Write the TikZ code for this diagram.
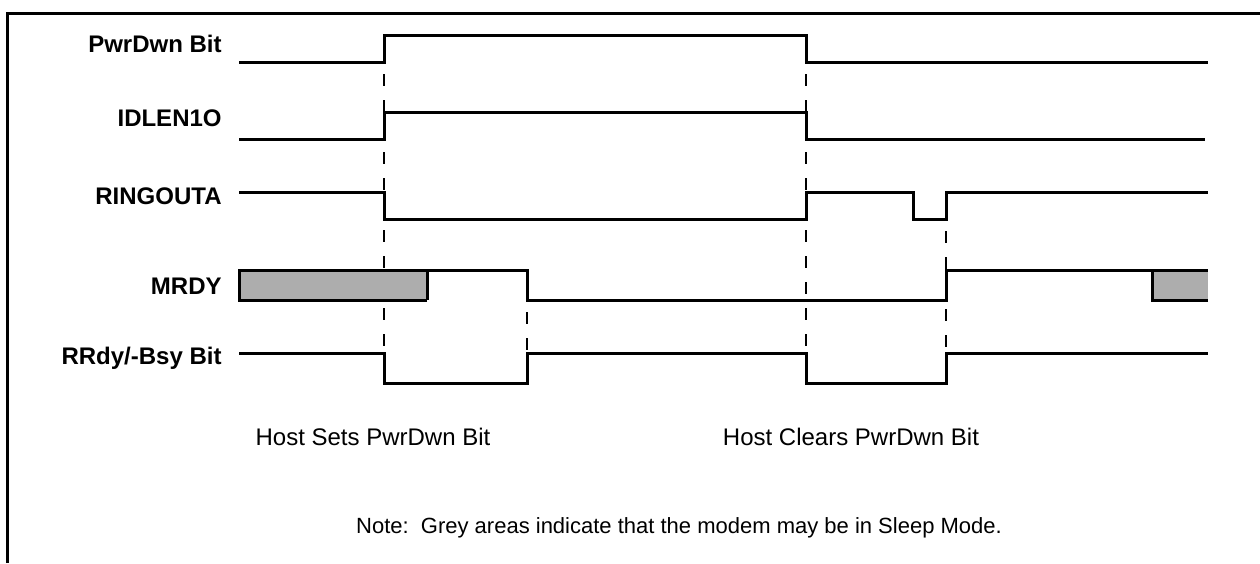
\documentclass[tikz,border=0pt]{standalone}
\usepackage{fontspec}
\setmainfont{Liberation Sans}
\begin{document}
\begin{tikzpicture}[x=0.5pt,y=-0.5pt,
	signal/.style={line width=1.5pt, line join=miter},
	marker/.style={line width=1pt, dash pattern=on 6pt off 7pt, dash phase=-6pt},
	sig label/.style={anchor=east, inner sep=0pt, font=\bfseries\fontsize{12}{14}\selectfont},
	caption/.style={inner sep=0pt, font=\fontsize{12}{14}\selectfont}]
	\definecolor{cSleep}{HTML}{ADADAD}
	\definecolor{cFrame}{HTML}{000000}

	\useasboundingbox (0,0) rectangle (1260,563);
	\draw[cFrame, line width=1.5pt] (7,563) -- (7,13) -- (1260,13);

	\node[sig label] (lPwrDwn) at (222,44) {PwrDwn Bit};
	\node[sig label] (lIdlen) at (222,118) {IDLEN1O};
	\node[sig label] (lRingout) at (222,196) {RINGOUTA};
	\node[sig label] (lMrdy) at (222,286) {MRDY};
	\node[sig label] (lRrdy) at (222,358) {RRdy/-Bsy Bit};

	\draw[marker] (384,62) -- (384,353);
	\draw[marker] (806,62) -- (806,353);
	\draw[marker] (527,300) -- (527,353);
	\draw[marker] (946,219) -- (946,353);

	\fill[cSleep] (239,270) rectangle (427,300);
	\fill[cSleep] (1152,270) rectangle (1208,300);

	\draw[signal] (239,62) -- (384,62) -- (384,35) -- (806,35) -- (806,62) -- (1208,62);
	\draw[signal] (239,139) -- (384,139) -- (384,112) -- (806,112) -- (806,139) -- (1205,139);
	\draw[signal] (239,192) -- (384,192) -- (384,219) -- (806,219) -- (806,192) -- (913,192) -- (913,219) -- (946,219) -- (946,192) -- (1208,192);
	\draw[signal] (427,300) -- (239,300) -- (239,270) -- (527,270) -- (527,300) -- (946,300) -- (946,270) -- (1208,270);
	\draw[signal] (427,270) -- (427,300);
	\draw[signal] (1208,300) -- (1152,300) -- (1152,270);
	\draw[signal] (239,353) -- (384,353) -- (384,383) -- (527,383) -- (527,353) -- (806,353) -- (806,383) -- (946,383) -- (946,353) -- (1208,353);

	\node[caption] (tSets) at (373,437) {Host Sets PwrDwn Bit};
	\node[caption] (tClears) at (851,437) {Host Clears PwrDwn Bit};
	\node[caption, font=\fontsize{11}{13}\selectfont] (tNote) at (679,528) {Note:\ \ Grey areas indicate that the modem may be in Sleep Mode.};
\end{tikzpicture}
\end{document}
